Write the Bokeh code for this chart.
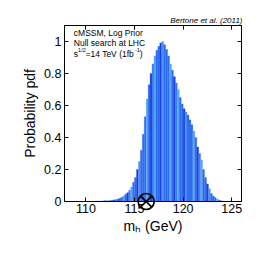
from bokeh.plotting import figure
from bokeh.models import Range1d, FixedTicker, LinearAxis, Label, ColumnDataSource
from bokeh.embed import file_html
from bokeh.resources import INLINE

# ---------------- data ----------------
bin_centers = [111.1, 111.3, 111.5, 111.7, 111.9, 112.1, 112.3, 112.5, 112.7, 112.9,
               113.1, 113.3, 113.5, 113.7, 113.9, 114.1, 114.3, 114.5, 114.7, 114.9,
               115.1, 115.3, 115.5, 115.7, 115.9, 116.1, 116.3, 116.5, 116.7, 116.9,
               117.1, 117.3, 117.5, 117.7, 117.9, 118.1, 118.3, 118.5, 118.7, 118.9,
               119.1, 119.3, 119.5, 119.7, 119.9, 120.1, 120.3, 120.5, 120.7, 120.9,
               121.1, 121.3, 121.5, 121.7, 121.9, 122.1, 122.3, 122.5, 122.7, 122.9,
               123.1, 123.3, 123.5, 123.7, 123.9, 124.1]
pdf_values = [0.002, 0.002, 0.003, 0.003, 0.004, 0.005, 0.005, 0.006, 0.008, 0.010,
              0.012, 0.016, 0.020, 0.027, 0.035, 0.045, 0.055, 0.07, 0.09, 0.12,
              0.15, 0.20, 0.25, 0.32, 0.42, 0.53, 0.64, 0.73, 0.80, 0.86,
              0.91, 0.945, 0.97, 0.99, 1.00, 0.98, 0.95, 0.91, 0.86, 0.82,
              0.78, 0.74, 0.70, 0.65, 0.61, 0.58, 0.56, 0.54, 0.51, 0.48,
              0.44, 0.40, 0.34, 0.30, 0.26, 0.20, 0.15, 0.11, 0.08, 0.05,
              0.035, 0.025, 0.015, 0.008, 0.004, 0.002]
x_ticks = [110, 115, 120, 125]
y_ticks = [0, 0.2, 0.4, 0.6, 0.8, 1]
y_tick_labels = ["0", "0.2", "0.4", "0.6", "0.8", "1"]
best_fit_mh = [116.2]
best_fit_pdf = [0.0]
note_lines = ["cMSSM, Log Prior", "Null search at LHC"]
energy_parts = ["s", "1/2", "=14 TeV (1fb", "-1", ")"]
credit = "Bertone et al. (2011)"
x_label = "m\u2095 (GeV)"
y_label = "Probability pdf"

# ---------------- style ----------------
X0, X1 = 107.8, 126.0
Y0, Y1 = 0.0, 1.1
FONT = "Liberation Sans"
stripe_palette = ["#2f6cf0", "#2f6cf0", "#55a6f6", "#2f6cf0", "#1d3fe4",
                  "#3a7cf2", "#55a6f6", "#2f6cf0", "#2f6cf0", "#1d3fe4",
                  "#4a94f4", "#2f6cf0"]
bar_colors = [stripe_palette[i % len(stripe_palette)] for i in range(len(bin_centers))]

FL, FR, FT, FB = 64, 9, 25, 49
W = H = 250
fw = W - FL - FR
fh = H - FT - FB
ppx = fw / (X1 - X0)
ppy = fh / (Y1 - Y0)

def px_x(page_x):
    return X0 + (page_x - FL) / ppx

def px_y(page_y):
    return Y0 + (H - FB - page_y) / ppy

p = figure(width=W, height=H, output_backend="svg", toolbar_location=None,
           x_range=Range1d(X0, X1), y_range=Range1d(Y0, Y1),
           min_border_left=FL, min_border_right=FR,
           min_border_top=FT, min_border_bottom=FB)
p.background_fill_color = "white"
p.border_fill_color = "white"
p.outline_line_color = "black"
p.outline_line_width = 1
p.xgrid.visible = False
p.ygrid.visible = False

p.title.text = credit
p.title.align = "right"
p.title.text_font = FONT
p.title.text_font_size = "8px"
p.title.text_font_style = "italic"
p.title.text_color = "black"
p.title.standoff = 1
p.title.offset = -1

src = ColumnDataSource(dict(x=bin_centers, top=pdf_values, color=bar_colors))
p.vbar(x="x", top="top", bottom=0, width=0.2, source=src,
       fill_color="color", line_color="color", line_width=0.3)

p.scatter(best_fit_mh, best_fit_pdf, marker="circle_x", size=16,
          fill_color=None, line_color="black", line_width=1.7, level="overlay")

def style_axis(ax, labels=True):
    ax.axis_line_color = "black"
    ax.major_tick_in = 4
    ax.major_tick_out = 0
    ax.minor_tick_line_color = None
    ax.major_tick_line_color = "black"
    if labels:
        ax.major_label_text_font = FONT
        ax.major_label_text_font_size = "12.5px"
        ax.major_label_text_color = "black"
        ax.axis_label_text_font = FONT
        ax.axis_label_text_font_size = "14px"
        ax.axis_label_text_font_style = "normal"
        ax.axis_label_text_color = "black"
    else:
        ax.major_label_text_font_size = "0px"
        ax.major_label_text_color = None
        ax.major_label_standoff = 0

xa = p.xaxis[0]
xa.ticker = FixedTicker(ticks=x_ticks)
xa.axis_label = x_label
style_axis(xa)
xa.major_label_standoff = 2
xa.axis_label_standoff = 2

ya = p.yaxis[0]
ya.ticker = FixedTicker(ticks=y_ticks)
ya.major_label_overrides = {t: s for t, s in zip(y_ticks, y_tick_labels)}
ya.axis_label = y_label
style_axis(ya)
ya.major_label_standoff = 3
ya.axis_label_standoff = 3

ra = LinearAxis(ticker=FixedTicker(ticks=y_ticks))
style_axis(ra, labels=False)
p.add_layout(ra, "right")
ta = LinearAxis(ticker=FixedTicker(ticks=x_ticks))
style_axis(ta, labels=False)
p.add_layout(ta, "above")

def add_label(text, page_x, page_y, size, align="left", style="normal"):
    p.add_layout(Label(x=px_x(page_x), y=px_y(page_y), text=text,
                       text_font=FONT, text_font_size=size, text_font_style=style,
                       text_align=align, text_baseline="middle",
                       text_color="black"))

add_label(note_lines[0], 73.3, 32.0, "8.5px")
add_label(note_lines[1], 73.3, 42.7, "8.5px")
# third line with superscripts
add_label(energy_parts[0], 73.3, 53.5, "8.5px")
add_label(energy_parts[1], 77.6, 49.5, "5.5px")
add_label(energy_parts[2], 85.0, 53.5, "8.5px")
add_label(energy_parts[3], 134.4, 49.5, "5.5px")
add_label(energy_parts[4], 139.3, 53.5, "8.5px")

open("out.html", "w").write(file_html(p, INLINE))
